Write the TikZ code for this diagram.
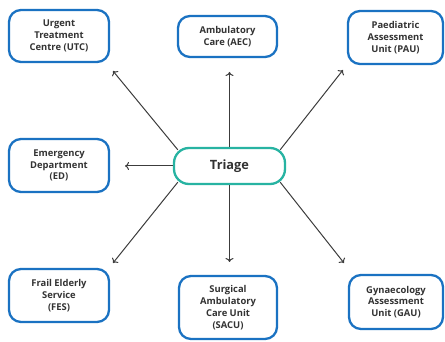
\documentclass[tikz,border=0pt]{standalone}
\usepackage{fontspec}
\setmainfont{Open Sans}
\usepackage{tikz}
\usetikzlibrary{positioning,arrows.meta}
\definecolor{unitblue}{HTML}{1A72C2}
\definecolor{triageteal}{HTML}{27B3A2}
\definecolor{textgrey}{HTML}{333333}
\definecolor{arrowgrey}{HTML}{3C3C3C}

\begin{document}
\begin{tikzpicture}[>={To[length=4pt,width=8pt]}, x=1pt, y=-1pt,
    unit/.style={draw=unitblue, line width=2.3pt, rounded corners=12pt, fill=white,
        align=center, inner sep=0pt, text=textgrey,
        font=\fontsize{9.4}{11.8}\selectfont\bfseries},
    hub/.style={draw=triageteal, line width=2.3pt, rounded corners=15pt, fill=white,
        inner sep=0pt, text=textgrey, font=\fontsize{12.8}{14}\selectfont\bfseries,
        minimum width=111pt, minimum height=36pt},
    link/.style={->, draw=arrowgrey, line width=1pt}]

    \useasboundingbox (0,0) rectangle (445,342);

    \path
    (229.5,166) node[hub] (tri) {Triage}
    (59,36)     node[unit, minimum width=100pt, minimum height=52pt] (utc) {Urgent\\Treatment\\Centre (UTC)}
    (227.5,36.5) node[unit, minimum width=99pt, minimum height=41pt] (aec) {Ambulatory\\Care (AEC)}
    (395.5,37.5) node[unit, minimum width=95pt, minimum height=53pt] (pau) {Paediatric\\Assessment\\Unit (PAU)}
    (59,165.5)  node[unit, minimum width=100pt, minimum height=53pt] (ed) {Emergency\\Department\\(ED)}
    (59,295.5)  node[unit, minimum width=100pt, minimum height=53pt] (fes) {Frail Elderly\\Service\\(FES)}
    (228,307.5) node[unit, minimum width=98pt, minimum height=63pt] (sacu) {Surgical\\Ambulatory\\Care Unit\\(SACU)}
    (396,302)   node[unit, minimum width=94pt, minimum height=54pt] (gau) {Gynaecology\\Assessment\\Unit (GAU)};

    \coordinate (utc-tip)  at (113,71);
    \coordinate (aec-tip)  at (229.5,72);
    \coordinate (pau-tip)  at (343,70);
    \coordinate (ed-tip)   at (125,166);
    \coordinate (fes-tip)  at (113,263);
    \coordinate (sacu-tip) at (229.5,262);
    \coordinate (gau-tip)  at (344,263);

    \draw[link] ([xshift=5pt,yshift=-3pt]tri.north west) -- (utc-tip);
    \draw[link] (tri.north) -- (aec-tip);
    \draw[link] ([xshift=-6pt,yshift=-3pt]tri.north east) -- (pau-tip);
    \draw[link] (tri.west) -- (ed-tip);
    \draw[link] ([xshift=5pt,yshift=3pt]tri.south west) -- (fes-tip);
    \draw[link] (tri.south) -- (sacu-tip);
    \draw[link] ([xshift=-6pt,yshift=3pt]tri.south east) -- (gau-tip);

\end{tikzpicture}
\end{document}
